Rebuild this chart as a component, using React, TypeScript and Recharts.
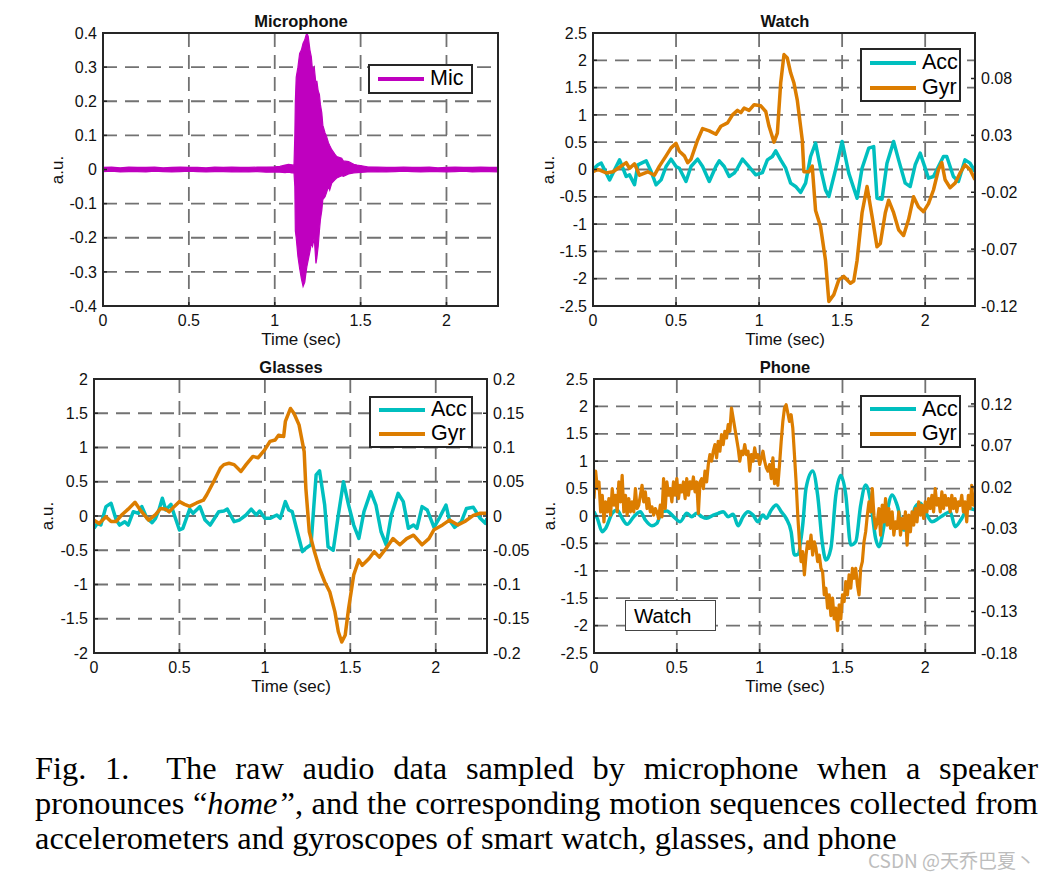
import { ComposedChart, Line, Area, XAxis, YAxis, CartesianGrid } from 'recharts'

const CYAN = '#00bfbf'
const ORANGE = '#dc7d00'
const MAGENTA = '#bf00bf'
const GRID = '#727272'
const INK = '#262626'
const SANS = '"Liberation Sans", Arial, Helvetica, sans-serif'
const SERIF = '"Liberation Serif", "Times New Roman", serif'

type Pt = [number, number]

const timeTicks = [0, 0.5, 1, 1.5, 2]
const timeDomain: [number, number] = [0, 2.3]

// Microphone: envelope of the raw audio [t, low, high]
const micBand: [number, number, number][] = [
  [0, -0.006, 0.006], [0.05, -0.005, 0.007], [0.1, -0.007, 0.005], [0.15, -0.006, 0.007],
  [0.2, -0.006, 0.006], [0.25, -0.007, 0.006], [0.3, -0.005, 0.007], [0.35, -0.006, 0.005],
  [0.4, -0.007, 0.006], [0.45, -0.006, 0.007], [0.5, -0.005, 0.006], [0.55, -0.006, 0.006],
  [0.6, -0.007, 0.005], [0.65, -0.006, 0.007], [0.7, -0.006, 0.006], [0.75, -0.007, 0.007],
  [0.8, -0.006, 0.006], [0.85, -0.007, 0.006], [0.9, -0.006, 0.007], [0.95, -0.008, 0.007],
  [1.0, -0.007, 0.008], [1.03, -0.008, 0.009], [1.06, -0.009, 0.013], [1.08, -0.008, 0.015],
  [1.1, -0.01, 0.014], [1.112, -0.009, 0.012], [1.117, -0.05, 0.1], [1.12, -0.18, 0.2],
  [1.125, -0.2, 0.27], [1.135, -0.255, 0.3], [1.145, -0.29, 0.34], [1.155, -0.32, 0.35],
  [1.165, -0.343, 0.37], [1.175, -0.33, 0.38], [1.18, -0.31, 0.39], [1.187, -0.285, 0.4],
  [1.195, -0.265, 0.39], [1.205, -0.24, 0.35], [1.213, -0.216, 0.33], [1.22, -0.225, 0.29],
  [1.23, -0.2, 0.3], [1.24, -0.275, 0.25], [1.245, -0.26, 0.26], [1.253, -0.225, 0.23],
  [1.26, -0.18, 0.22], [1.266, -0.147, 0.19], [1.274, -0.12, 0.166], [1.28, -0.088, 0.13],
  [1.293, -0.08, 0.107], [1.3, -0.07, 0.1], [1.313, -0.05, 0.078], [1.32, -0.06, 0.07],
  [1.332, -0.04, 0.058], [1.35, -0.03, 0.045], [1.361, -0.025, 0.038], [1.39, -0.018, 0.033],
  [1.4, -0.02, 0.025], [1.43, -0.013, 0.023], [1.46, -0.01, 0.015], [1.48, -0.009, 0.013],
  [1.54, -0.007, 0.008], [1.6, -0.006, 0.007], [1.65, -0.007, 0.006], [1.7, -0.006, 0.006],
  [1.75, -0.005, 0.007], [1.8, -0.006, 0.006], [1.85, -0.007, 0.006], [1.9, -0.006, 0.007],
  [1.95, -0.006, 0.005], [2.0, -0.007, 0.006], [2.05, -0.006, 0.007], [2.1, -0.005, 0.006],
  [2.15, -0.007, 0.006], [2.2, -0.006, 0.007], [2.25, -0.006, 0.006], [2.3, -0.007, 0.006],
]

// Watch
const watchAcc: Pt[] = [
  [0, 0], [0.03, 0.086], [0.05, 0.116], [0.1, -0.19], [0.16, 0.177], [0.2, -0.128], [0.22, -0.098],
  [0.25, -0.28], [0.27, 0.086], [0.32, 0.159], [0.35, -0.037], [0.38, -0.28], [0.41, -0.19],
  [0.44, 0.055], [0.47, 0.19], [0.5, 0.055], [0.52, 0.024], [0.56, -0.22], [0.59, 0.055],
  [0.63, 0.19], [0.66, 0.055], [0.7, -0.22], [0.74, 0.055], [0.76, 0.159], [0.79, 0.055],
  [0.82, -0.128], [0.85, -0.067], [0.87, 0.024], [0.9, 0.19], [0.93, 0.086], [0.98, -0.098],
  [1.02, -0.055], [1.05, 0.177], [1.08, 0.238], [1.1, 0.342], [1.13, 0.177], [1.16, 0.024],
  [1.19, -0.25], [1.22, -0.31], [1.25, -0.42], [1.28, -0.25], [1.31, 0.238], [1.34, 0.483],
  [1.37, 0.024], [1.4, -0.373], [1.42, -0.495], [1.46, -0.006], [1.5, 0.513], [1.54, -0.067],
  [1.59, -0.526], [1.62, 0.024], [1.66, 0.39], [1.69, 0.42], [1.71, -0.526], [1.74, -0.544],
  [1.77, 0.116], [1.81, 0.513], [1.84, 0.177], [1.88, -0.25], [1.91, -0.31], [1.94, 0.086],
  [1.97, 0.3], [1.99, 0.116], [2.02, -0.159], [2.05, -0.128], [2.11, 0.238], [2.13, 0.238],
  [2.17, -0.128], [2.2, -0.22], [2.24, 0.177], [2.27, 0.116], [2.3, -0.037],
]
const watchGyr: Pt[] = [
  [0, -0.002], [0.03, 0.0], [0.08, -0.003], [0.12, -0.002], [0.16, 0.002], [0.2, 0.006],
  [0.22, 0.001], [0.25, 0.005], [0.28, -0.005], [0.33, -0.002], [0.37, -0.005], [0.4, 0.003],
  [0.44, 0.012], [0.47, 0.019], [0.5, 0.023], [0.52, 0.016], [0.55, 0.012], [0.57, 0.006],
  [0.59, 0.009], [0.63, 0.026], [0.66, 0.036], [0.7, 0.034], [0.74, 0.031], [0.77, 0.038],
  [0.81, 0.041], [0.84, 0.048], [0.87, 0.052], [0.89, 0.05], [0.91, 0.054], [0.94, 0.052],
  [0.97, 0.057], [1.01, 0.056], [1.04, 0.051], [1.06, 0.038], [1.09, 0.024], [1.11, 0.032],
  [1.13, 0.076], [1.15, 0.101], [1.17, 0.098], [1.19, 0.085], [1.21, 0.076], [1.23, 0.061],
  [1.26, 0.026], [1.27, -0.002], [1.3, -0.002], [1.32, 0.003], [1.34, -0.036], [1.37, -0.05],
  [1.4, -0.08], [1.42, -0.116], [1.45, -0.11], [1.48, -0.097], [1.51, -0.094], [1.55, -0.1],
  [1.57, -0.098], [1.59, -0.08], [1.62, -0.038], [1.65, -0.015], [1.68, -0.041], [1.71, -0.068],
  [1.73, -0.065], [1.76, -0.038], [1.78, -0.027], [1.81, -0.038], [1.84, -0.053], [1.87, -0.058],
  [1.9, -0.044], [1.93, -0.024], [1.96, -0.033], [1.99, -0.037], [2.02, -0.03], [2.05, -0.018],
  [2.08, 0.0], [2.1, 0.006], [2.12, -0.009], [2.15, -0.016], [2.18, -0.012], [2.21, -0.003],
  [2.24, 0.004], [2.27, 0.0], [2.3, -0.009],
]

// Glasses
const glassesAcc: Pt[] = [
  [0, -0.18], [0.02, -0.107], [0.04, -0.132], [0.07, 0.137], [0.1, 0.185], [0.13, -0.059],
  [0.15, -0.132], [0.18, -0.083], [0.2, -0.132], [0.23, 0.063], [0.26, 0.039], [0.28, 0.137],
  [0.31, -0.034], [0.34, -0.098], [0.36, -0.034], [0.38, 0.088], [0.4, 0.26], [0.42, 0.088],
  [0.45, 0.17], [0.47, 0.015], [0.5, -0.205], [0.52, -0.18], [0.56, 0.1], [0.58, 0.039],
  [0.62, 0.137], [0.65, -0.059], [0.68, -0.132], [0.73, 0.063], [0.76, 0.073], [0.78, 0.1],
  [0.82, -0.083], [0.85, -0.059], [0.89, 0.015], [0.92, 0.1], [0.95, 0.015], [0.97, 0.073],
  [1.0, -0.034], [1.03, -0.034], [1.07, 0.015], [1.09, -0.034], [1.12, 0.21], [1.14, 0.088],
  [1.16, 0.063], [1.19, -0.23], [1.22, -0.52], [1.24, -0.47], [1.27, -0.42], [1.3, 0.6],
  [1.32, 0.66], [1.35, 0.16], [1.37, -0.45], [1.4, -0.5], [1.43, 0.015], [1.46, 0.5],
  [1.49, 0.16], [1.52, -0.132], [1.55, -0.327], [1.58, 0.063], [1.62, 0.356], [1.65, 0.16],
  [1.68, -0.23], [1.71, -0.42], [1.74, 0.015], [1.78, 0.33], [1.81, 0.21], [1.84, -0.18],
  [1.87, -0.132], [1.89, -0.18], [1.92, 0.137], [1.95, 0.088], [1.99, -0.166], [2.02, -0.034],
  [2.06, 0.16], [2.08, -0.059], [2.11, -0.166], [2.15, -0.083], [2.18, 0.11], [2.22, 0.127],
  [2.26, -0.034], [2.29, -0.107], [2.3, -0.034],
]
const glassesGyr: Pt[] = [
  [0, -0.006], [0.03, -0.011], [0.07, -0.001], [0.1, -0.008], [0.13, -0.008], [0.16, 0.001],
  [0.2, 0.01], [0.24, 0.02], [0.27, 0.009], [0.32, -0.006], [0.36, 0.002], [0.39, 0.011],
  [0.42, 0.01], [0.44, 0.006], [0.47, 0.014], [0.5, 0.021], [0.53, 0.017], [0.56, 0.014],
  [0.6, 0.019], [0.64, 0.023], [0.66, 0.031], [0.7, 0.05], [0.74, 0.07], [0.76, 0.075],
  [0.79, 0.077], [0.82, 0.075], [0.86, 0.065], [0.89, 0.075], [0.93, 0.087], [0.96, 0.085],
  [1.0, 0.097], [1.03, 0.109], [1.06, 0.111], [1.08, 0.118], [1.11, 0.116], [1.12, 0.138],
  [1.15, 0.157], [1.17, 0.15], [1.2, 0.133], [1.23, 0.094], [1.24, 0.04], [1.26, -0.023],
  [1.29, -0.052], [1.32, -0.077], [1.35, -0.096], [1.38, -0.111], [1.41, -0.14], [1.43, -0.169],
  [1.45, -0.184], [1.47, -0.174], [1.49, -0.135], [1.52, -0.086], [1.55, -0.064], [1.57, -0.072],
  [1.61, -0.062], [1.64, -0.052], [1.67, -0.06], [1.71, -0.047], [1.75, -0.033], [1.79, -0.042],
  [1.83, -0.033], [1.87, -0.028], [1.92, -0.042], [1.96, -0.033], [1.99, -0.02], [2.04, -0.013],
  [2.08, -0.006], [2.13, -0.013], [2.17, -0.008], [2.22, 0.001], [2.26, 0.004], [2.3, 0.004],
]

// Phone
const phoneAcc: Pt[] = [
  [0, 0.079], [0.02, -0.043], [0.05, -0.287], [0.07, -0.226], [0.11, 0.049], [0.14, 0.11],
  [0.17, -0.043], [0.2, -0.152], [0.24, -0.012], [0.28, 0.079], [0.31, -0.073], [0.35, -0.177],
  [0.38, -0.134], [0.41, 0.079], [0.44, 0.091], [0.48, -0.012], [0.52, -0.104], [0.56, 0.049],
  [0.59, -0.012], [0.62, 0.049], [0.65, -0.012], [0.68, -0.043], [0.72, 0.018], [0.75, 0.049],
  [0.78, 0.079], [0.81, -0.012], [0.84, 0.03], [0.87, -0.177], [0.9, -0.012], [0.93, 0.079],
  [0.96, 0.018], [0.99, -0.104], [1.02, 0.018], [1.04, -0.043], [1.07, 0.11], [1.1, 0.2],
  [1.13, 0.079], [1.16, -0.043], [1.19, -0.287], [1.21, -0.713], [1.23, -0.7], [1.26, -0.165],
  [1.28, 0.506], [1.32, 0.823], [1.35, 0.384], [1.38, -0.53], [1.4, -0.805], [1.43, -0.59],
  [1.46, 0.384], [1.49, 0.738], [1.52, 0.384], [1.55, -0.53], [1.58, -0.47], [1.61, 0.2],
  [1.64, 0.567], [1.67, 0.262], [1.7, -0.41], [1.72, -0.56], [1.76, -0.043], [1.8, 0.384],
  [1.83, 0.2], [1.87, -0.256], [1.9, -0.256], [1.94, 0.17], [1.97, 0.232], [2.0, 0.079],
  [2.04, -0.104], [2.08, -0.043], [2.11, 0.018], [2.15, 0.079], [2.18, -0.195], [2.22, -0.043],
  [2.26, 0.14], [2.3, 0.11],
]
// phone gyroscope, one reading every 10 ms from t = 0
const phoneGyrStep = 0.01
const phoneGyrValues = [
  0.006, 0.039, 0.018, 0.026, -0.01, 0.01, -0.022, 0.002, -0.01, 0.006,
  -0.014, 0.018, -0.002, 0.01, -0.01, 0.026, 0.002, 0.034, -0.01, 0.01,
  -0.014, 0.006, -0.01, 0.002, -0.01, 0.018, -0.006, -0.002, 0.01, 0.022,
  0.002, 0.014, -0.006, 0.006, -0.01, -0.004, -0.014, -0.006, -0.01, -0.018,
  -0.002, -0.016, 0.03, -0.006, 0.026, 0.01, 0.018, 0.002, 0.026, 0.01,
  0.03, 0.006, 0.022, 0.014, 0.026, 0.006, 0.03, 0.01, 0.026, 0.018,
  0.032, 0.014, 0.026, -0.012, 0.026, 0.03, 0.018, 0.039, 0.026, 0.047,
  0.059, 0.051, 0.063, 0.071, 0.055, 0.075, 0.063, 0.083, 0.071, 0.087,
  0.079, 0.095, 0.087, 0.115, 0.103, 0.091, 0.079, 0.067, 0.051, 0.063,
  0.059, 0.071, 0.059, 0.063, 0.039, 0.059, 0.051, 0.067, 0.055, 0.059,
  0.047, 0.055, 0.063, 0.051, 0.043, 0.039, 0.047, 0.03, 0.055, 0.024,
  0.041, 0.022, 0.047, 0.075, 0.099, 0.115, 0.119, 0.109, 0.099, 0.107,
  0.091, 0.059, 0.026, -0.014, -0.046, -0.07, -0.058, -0.086, -0.062, -0.046,
  -0.054, -0.038, -0.062, -0.046, -0.054, -0.07, -0.062, -0.078, -0.082, -0.11,
  -0.102, -0.126, -0.11, -0.135, -0.114, -0.139, -0.126, -0.153, -0.122, -0.139,
  -0.11, -0.118, -0.094, -0.11, -0.086, -0.102, -0.078, -0.09, -0.078, -0.098,
  -0.11, -0.078, -0.07, -0.046, -0.034, -0.014, 0.002, -0.01, 0.018, -0.014,
  -0.03, -0.022, -0.006, -0.038, -0.002, -0.022, 0.006, -0.026, -0.006, -0.03,
  -0.01, -0.038, -0.022, -0.03, -0.01, -0.038, -0.018, -0.03, -0.01, -0.05,
  -0.014, -0.034, -0.01, -0.026, -0.006, -0.022, 0.002, -0.014, -0.002, -0.018,
  0.002, -0.01, 0.006, -0.006, 0.01, -0.01, 0.018, -0.002, 0.006, -0.01,
  0.014, -0.006, 0.01, -0.002, 0.006, -0.01, 0.01, -0.006, 0.006, -0.01,
  0.002, -0.002, 0.01, -0.01, 0.002, -0.022, 0.01, -0.006, 0.022, -0.002,
  0.002,
]
const phoneGyr: Pt[] = phoneGyrValues.map((v, i) => [+(i * phoneGyrStep).toFixed(2), v])

type AxisDef = { domain: [number, number]; ticks: number[] }
type Series = { key: string; data: Pt[]; color: string; axis: 'left' | 'right'; width: number; curve?: 'linear' | 'monotone' }

const ML = 10
const LW = 50
const RW = 60
const MR = 10
const MT = 10
const XH = 34
const MB = 6

const tickStyle = { fontSize: 16, fill: '#111', fontFamily: SANS }
const tickLine = { stroke: INK, strokeWidth: 1.5 }

function Panel({ x, y, w, h, left, right, series, band }: {
  x: number; y: number; w: number; h: number
  left: AxisDef; right?: AxisDef; series: Series[]
  band?: [number, number, number][]
}) {
  const cw = ML + LW + w + (right ? RW : 0) + MR
  const ch = MT + h + XH + MB
  return (
    <div style={{ position: 'absolute', left: x - ML - LW, top: y - MT, width: cw, height: ch }}>
      <ComposedChart width={cw} height={ch} margin={{ top: MT, left: ML, right: MR, bottom: MB }}>
        <CartesianGrid yAxisId="left" stroke={GRID} strokeDasharray="14 8" strokeWidth={1.8} />
        <XAxis type="number" dataKey="t" domain={timeDomain} ticks={timeTicks} allowDataOverflow
          height={XH} axisLine={false} tickSize={-4} tickMargin={13} tickLine={tickLine}
          tick={tickStyle} interval={0} />
        <YAxis yAxisId="left" type="number" domain={left.domain} ticks={left.ticks} allowDataOverflow
          width={LW} axisLine={false} tickSize={-4} tickMargin={10} tickLine={tickLine}
          tick={tickStyle} interval={0} />
        {right && (
          <YAxis yAxisId="right" orientation="right" type="number" domain={right.domain} ticks={right.ticks}
            allowDataOverflow width={RW} axisLine={false} tickSize={-4} tickMargin={10}
            tickLine={tickLine} tick={tickStyle} interval={0} />
        )}
        {band && (
          <Area yAxisId="left" type="linear" data={band.map(([t, lo, hi]) => ({ t, band: [lo, hi] }))}
            dataKey="band" stroke={MAGENTA} strokeWidth={1.2} fill={MAGENTA} fillOpacity={1}
            dot={false} activeDot={false} isAnimationActive={false} />
        )}
        {series.map(s => (
          <Line key={s.key} yAxisId={s.axis} type={s.curve ?? 'linear'}
            data={s.data.map(([t, v]) => ({ t, v }))} dataKey="v" stroke={s.color}
            strokeWidth={s.width} strokeLinejoin="round" dot={false} activeDot={false}
            isAnimationActive={false} />
        ))}
      </ComposedChart>
      <div style={{
        position: 'absolute', left: ML + LW - 1, top: MT - 1, width: w + 2, height: h + 2,
        border: `2px solid ${INK}`, boxSizing: 'border-box', pointerEvents: 'none',
      }} />
    </div>
  )
}

function Txt({ x, y, size, bold, rotate, children }: {
  x: number; y: number; size: number; bold?: boolean; rotate?: boolean; children: React.ReactNode
}) {
  return (
    <div style={{
      position: 'absolute', left: x, top: y,
      transform: `translate(-50%, -50%)${rotate ? ' rotate(-90deg)' : ''}`,
      fontFamily: SANS, fontSize: size, fontWeight: bold ? 700 : 400,
      whiteSpace: 'nowrap', lineHeight: 1, color: '#111',
    }}>{children}</div>
  )
}

function LegendBox({ x, y, w, h, items }: {
  x: number; y: number; w: number; h: number; items: { label: string; color: string }[]
}) {
  return (
    <div style={{
      position: 'absolute', left: x, top: y, width: w, height: h, boxSizing: 'border-box',
      border: `2px solid ${INK}`, background: '#fff', paddingLeft: 8,
      display: 'flex', flexDirection: 'column', justifyContent: 'center',
    }}>
      {items.map(it => (
        <div key={it.label} style={{ display: 'flex', alignItems: 'center', height: 25 }}>
          <span style={{ display: 'inline-block', width: 46, height: 4, background: it.color }} />
          <span style={{ marginLeft: 6, fontFamily: SANS, fontSize: 21.5, color: '#000', lineHeight: 1 }}>{it.label}</span>
        </div>
      ))}
    </div>
  )
}

const accGyr = [{ label: 'Acc', color: CYAN }, { label: 'Gyr', color: ORANGE }]

const captionLine = (top: number, justify: boolean) => ({
  position: 'absolute' as const, left: 35, top, width: 1003, fontFamily: SERIF, fontSize: 32.4,
  lineHeight: '35px', color: '#000', whiteSpace: 'nowrap' as const,
  textAlign: (justify ? 'justify' : 'left') as 'justify' | 'left',
  textAlignLast: (justify ? 'justify' : 'left') as 'justify' | 'left',
})

export default function App() {
  return (
    <div style={{ position: 'absolute', left: 0, top: 0, width: 1060, height: 878, background: '#fff', overflow: 'hidden' }}>
      {/* Microphone */}
      <Panel x={103} y={33} w={395} h={273}
        left={{ domain: [-0.4, 0.4], ticks: [-0.4, -0.3, -0.2, -0.1, 0, 0.1, 0.2, 0.3, 0.4] }}
        series={[]} band={micBand} />
      <Txt x={301} y={21} size={16.5} bold>Microphone</Txt>
      <Txt x={301} y={339} size={17}>Time (sec)</Txt>
      <Txt x={57} y={170} size={17} rotate>a.u.</Txt>
      <LegendBox x={368} y={64} w={105} h={30} items={[{ label: 'Mic', color: MAGENTA }]} />

      {/* Watch */}
      <Panel x={593} y={33} w={382} h={273}
        left={{ domain: [-2.5, 2.5], ticks: [-2.5, -2, -1.5, -1, -0.5, 0, 0.5, 1, 1.5, 2, 2.5] }}
        right={{ domain: [-0.12, 0.12], ticks: [-0.12, -0.07, -0.02, 0.03, 0.08] }}
        series={[
          { key: 'acc', data: watchAcc, color: CYAN, axis: 'left', width: 3.5 },
          { key: 'gyr', data: watchGyr, color: ORANGE, axis: 'right', width: 3.5 },
        ]} />
      <Txt x={785} y={21} size={16.5} bold>Watch</Txt>
      <Txt x={785} y={339} size={17}>Time (sec)</Txt>
      <Txt x={548} y={170} size={17} rotate>a.u.</Txt>
      <LegendBox x={860} y={48} w={101} h={54} items={accGyr} />

      {/* Glasses */}
      <Panel x={94} y={379} w={393} h={274}
        left={{ domain: [-2, 2], ticks: [-2, -1.5, -1, -0.5, 0, 0.5, 1, 1.5, 2] }}
        right={{ domain: [-0.2, 0.2], ticks: [-0.2, -0.15, -0.1, -0.05, 0, 0.05, 0.1, 0.15, 0.2] }}
        series={[
          { key: 'acc', data: glassesAcc, color: CYAN, axis: 'left', width: 3.5 },
          { key: 'gyr', data: glassesGyr, color: ORANGE, axis: 'right', width: 3.5 },
        ]} />
      <Txt x={291} y={367} size={16.5} bold>Glasses</Txt>
      <Txt x={291} y={686} size={17}>Time (sec)</Txt>
      <Txt x={47} y={516} size={17} rotate>a.u.</Txt>
      <LegendBox x={369} y={396} w={104} h={52} items={accGyr} />

      {/* Phone */}
      <Panel x={594} y={379} w={381} h={274}
        left={{ domain: [-2.5, 2.5], ticks: [-2.5, -2, -1.5, -1, -0.5, 0, 0.5, 1, 1.5, 2, 2.5] }}
        right={{ domain: [-0.18, 0.15], ticks: [-0.18, -0.13, -0.08, -0.03, 0.02, 0.07, 0.12] }}
        series={[
          { key: 'acc', data: phoneAcc, color: CYAN, axis: 'left', width: 3.5, curve: 'monotone' },
          { key: 'gyr', data: phoneGyr, color: ORANGE, axis: 'right', width: 3.2 },
        ]} />
      <Txt x={785} y={367} size={16.5} bold>Phone</Txt>
      <Txt x={785} y={686} size={17}>Time (sec)</Txt>
      <Txt x={549} y={516} size={17} rotate>a.u.</Txt>
      <LegendBox x={860} y={395} w={101} h={53} items={accGyr} />
      <div style={{
        position: 'absolute', left: 625, top: 600, width: 91, height: 31, boxSizing: 'border-box',
        border: '1px solid #444', background: '#fff', paddingLeft: 8,
        fontFamily: SANS, fontSize: 20.5, lineHeight: '29px', color: '#000',
      }}>Watch</div>

      {/* Caption, one block per printed line */}
      <div style={captionLine(751, true)}>
        Fig. 1.&nbsp; The raw audio data sampled by microphone when a speaker
      </div>
      <div style={captionLine(786, true)}>
        pronounces “<i style={{ marginRight: 3 }}>home</i>”, and the corresponding motion sequences collected from
      </div>
      <div style={captionLine(821, false)}>
        accelerometers and gyroscopes of smart watch, glasses, and phone
      </div>
      <div style={{
        position: 'absolute', left: 868, top: 846, fontFamily: '"Noto Sans CJK SC", sans-serif',
        fontSize: 19, color: '#bdbdbd', whiteSpace: 'nowrap',
      }}>CSDN @天乔巴夏丶</div>
    </div>
  )
}
